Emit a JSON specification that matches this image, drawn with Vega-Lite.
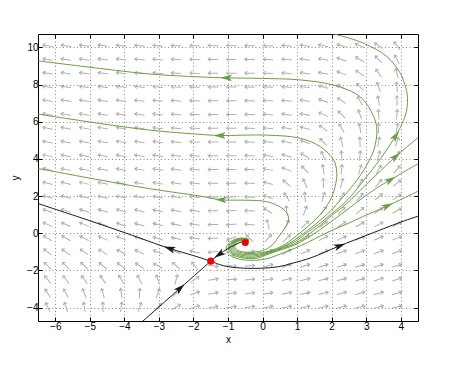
{
"$schema":"https://vega.github.io/schema/vega-lite/v6.json",
"width":380,"height":287,
"autosize":{"type":"none"},
"padding":{"left":38,"top":34,"right":43,"bottom":49},
"background":"white",
"config":{
 "view":{"stroke":"#000","strokeWidth":1},
 "axis":{"labelFont":"Liberation Sans","labelFontSize":10,"labelColor":"#000","labelOverlap":false,"titleFont":"Liberation Sans","titleFontSize":10,"titleFontWeight":"normal","titleColor":"#000","tickColor":"#000","tickSize":-4,"domain":false,"gridColor":"#8a8a8a","gridDash":[1,2.5],"gridOpacity":1,"labelPadding":4}
},
"resolve":{"axis":{"x":"independent","y":"independent"}},
"datasets":{
 "field":[
{"x":-6.22,"y":-3.97,"d":115},{"x":-5.69,"y":-3.97,"d":108},{"x":-5.16,"y":-3.97,"d":100},{"x":-4.62,"y":-3.97,"d":92},{"x":-4.09,"y":-3.97,"d":82},{"x":-3.56,"y":-3.97,"d":68},{"x":-3.03,"y":-3.97,"d":45},{"x":-2.5,"y":-3.97,"d":32},{"x":-1.96,"y":-3.97,"d":18},{"x":-1.43,"y":-3.97,"d":10},{"x":-0.9,"y":-3.97,"d":8},{"x":-0.37,"y":-3.97,"d":9},{"x":0.16,"y":-3.97,"d":10},{"x":0.7,"y":-3.97,"d":12},{"x":1.23,"y":-3.97,"d":13},{"x":1.76,"y":-3.97,"d":14},{"x":2.29,"y":-3.97,"d":15},{"x":2.82,"y":-3.97,"d":15},{"x":3.36,"y":-3.97,"d":15},{"x":3.89,"y":-3.97,"d":15},
{"x":-6.22,"y":-3.23,"d":122},{"x":-5.69,"y":-3.23,"d":118},{"x":-5.16,"y":-3.23,"d":112},{"x":-4.62,"y":-3.23,"d":105},{"x":-4.09,"y":-3.23,"d":97},{"x":-3.56,"y":-3.23,"d":88},{"x":-3.03,"y":-3.23,"d":72},{"x":-2.5,"y":-3.23,"d":42},{"x":-1.96,"y":-3.23,"d":20},{"x":-1.43,"y":-3.23,"d":10},{"x":-0.9,"y":-3.23,"d":7},{"x":-0.37,"y":-3.23,"d":8},{"x":0.16,"y":-3.23,"d":10},{"x":0.7,"y":-3.23,"d":12},{"x":1.23,"y":-3.23,"d":13},{"x":1.76,"y":-3.23,"d":14},{"x":2.29,"y":-3.23,"d":15},{"x":2.82,"y":-3.23,"d":16},{"x":3.36,"y":-3.23,"d":16},{"x":3.89,"y":-3.23,"d":16},
{"x":-6.22,"y":-2.49,"d":128},{"x":-5.69,"y":-2.49,"d":127},{"x":-5.16,"y":-2.49,"d":126},{"x":-4.62,"y":-2.49,"d":125},{"x":-4.09,"y":-2.49,"d":122},{"x":-3.56,"y":-2.49,"d":118},{"x":-3.03,"y":-2.49,"d":108},{"x":-2.5,"y":-2.49,"d":75},{"x":-1.96,"y":-2.49,"d":35},{"x":-1.43,"y":-2.49,"d":8},{"x":-0.9,"y":-2.49,"d":3},{"x":-0.37,"y":-2.49,"d":5},{"x":0.16,"y":-2.49,"d":9},{"x":0.7,"y":-2.49,"d":12},{"x":1.23,"y":-2.49,"d":13},{"x":1.76,"y":-2.49,"d":14},{"x":2.29,"y":-2.49,"d":15},{"x":2.82,"y":-2.49,"d":16},{"x":3.36,"y":-2.49,"d":17},{"x":3.89,"y":-2.49,"d":17},
{"x":-6.22,"y":-1.75,"d":135},{"x":-5.69,"y":-1.75,"d":135},{"x":-5.16,"y":-1.75,"d":137},{"x":-4.62,"y":-1.75,"d":140},{"x":-4.09,"y":-1.75,"d":143},{"x":-3.56,"y":-1.75,"d":146},{"x":-3.03,"y":-1.75,"d":150},{"x":-2.5,"y":-1.75,"d":138},{"x":-1.96,"y":-1.75,"d":128},{"x":-1.43,"y":-1.75,"d":353},{"x":-0.9,"y":-1.75,"d":352},{"x":-0.37,"y":-1.75,"d":2},{"x":0.16,"y":-1.75,"d":15},{"x":0.7,"y":-1.75,"d":20},{"x":1.23,"y":-1.75,"d":18},{"x":1.76,"y":-1.75,"d":18},{"x":2.29,"y":-1.75,"d":18},{"x":2.82,"y":-1.75,"d":18},{"x":3.36,"y":-1.75,"d":18},{"x":3.89,"y":-1.75,"d":18},
{"x":-6.22,"y":-1.01,"d":142},{"x":-5.69,"y":-1.01,"d":143},{"x":-5.16,"y":-1.01,"d":145},{"x":-4.62,"y":-1.01,"d":148},{"x":-4.09,"y":-1.01,"d":150},{"x":-3.56,"y":-1.01,"d":155},{"x":-3.03,"y":-1.01,"d":158},{"x":-2.5,"y":-1.01,"d":160},{"x":-1.96,"y":-1.01,"d":165},{"x":-1.43,"y":-1.01,"d":185},{"x":-0.9,"y":-1.01,"d":300},{"x":-0.37,"y":-1.01,"d":10},{"x":0.16,"y":-1.01,"d":25},{"x":0.7,"y":-1.01,"d":30},{"x":1.23,"y":-1.01,"d":25},{"x":1.76,"y":-1.01,"d":22},{"x":2.29,"y":-1.01,"d":21},{"x":2.82,"y":-1.01,"d":20},{"x":3.36,"y":-1.01,"d":20},{"x":3.89,"y":-1.01,"d":20},
{"x":-6.22,"y":-0.27,"d":148},{"x":-5.69,"y":-0.27,"d":150},{"x":-5.16,"y":-0.27,"d":152},{"x":-4.62,"y":-0.27,"d":155},{"x":-4.09,"y":-0.27,"d":158},{"x":-3.56,"y":-0.27,"d":161},{"x":-3.03,"y":-0.27,"d":164},{"x":-2.5,"y":-0.27,"d":167},{"x":-1.96,"y":-0.27,"d":172},{"x":-1.43,"y":-0.27,"d":182},{"x":-0.9,"y":-0.27,"d":200},{"x":-0.37,"y":-0.27,"d":135},{"x":0.16,"y":-0.27,"d":48},{"x":0.7,"y":-0.27,"d":45},{"x":1.23,"y":-0.27,"d":33},{"x":1.76,"y":-0.27,"d":28},{"x":2.29,"y":-0.27,"d":25},{"x":2.82,"y":-0.27,"d":24},{"x":3.36,"y":-0.27,"d":23},{"x":3.89,"y":-0.27,"d":22},
{"x":-6.22,"y":0.47,"d":155},{"x":-5.69,"y":0.47,"d":156},{"x":-5.16,"y":0.47,"d":158},{"x":-4.62,"y":0.47,"d":160},{"x":-4.09,"y":0.47,"d":162},{"x":-3.56,"y":0.47,"d":164},{"x":-3.03,"y":0.47,"d":166},{"x":-2.5,"y":0.47,"d":166},{"x":-1.96,"y":0.47,"d":172},{"x":-1.43,"y":0.47,"d":181},{"x":-0.9,"y":0.47,"d":186},{"x":-0.37,"y":0.47,"d":174},{"x":0.16,"y":0.47,"d":105},{"x":0.7,"y":0.47,"d":65},{"x":1.23,"y":0.47,"d":45},{"x":1.76,"y":0.47,"d":38},{"x":2.29,"y":0.47,"d":33},{"x":2.82,"y":0.47,"d":30},{"x":3.36,"y":0.47,"d":28},{"x":3.89,"y":0.47,"d":27},
{"x":-6.22,"y":1.21,"d":160},{"x":-5.69,"y":1.21,"d":161},{"x":-5.16,"y":1.21,"d":162},{"x":-4.62,"y":1.21,"d":163},{"x":-4.09,"y":1.21,"d":165},{"x":-3.56,"y":1.21,"d":166},{"x":-3.03,"y":1.21,"d":168},{"x":-2.5,"y":1.21,"d":168},{"x":-1.96,"y":1.21,"d":173},{"x":-1.43,"y":1.21,"d":180},{"x":-0.9,"y":1.21,"d":184},{"x":-0.37,"y":1.21,"d":177},{"x":0.16,"y":1.21,"d":146},{"x":0.7,"y":1.21,"d":97},{"x":1.23,"y":1.21,"d":70},{"x":1.76,"y":1.21,"d":55},{"x":2.29,"y":1.21,"d":45},{"x":2.82,"y":1.21,"d":40},{"x":3.36,"y":1.21,"d":33},{"x":3.89,"y":1.21,"d":30},
{"x":-6.22,"y":1.95,"d":165},{"x":-5.69,"y":1.95,"d":165},{"x":-5.16,"y":1.95,"d":166},{"x":-4.62,"y":1.95,"d":167},{"x":-4.09,"y":1.95,"d":168},{"x":-3.56,"y":1.95,"d":169},{"x":-3.03,"y":1.95,"d":170},{"x":-2.5,"y":1.95,"d":171},{"x":-1.96,"y":1.95,"d":174},{"x":-1.43,"y":1.95,"d":180},{"x":-0.9,"y":1.95,"d":183},{"x":-0.37,"y":1.95,"d":178},{"x":0.16,"y":1.95,"d":159},{"x":0.7,"y":1.95,"d":122},{"x":1.23,"y":1.95,"d":95},{"x":1.76,"y":1.95,"d":75},{"x":2.29,"y":1.95,"d":60},{"x":2.82,"y":1.95,"d":50},{"x":3.36,"y":1.95,"d":40},{"x":3.89,"y":1.95,"d":35},
{"x":-6.22,"y":2.69,"d":165},{"x":-5.69,"y":2.69,"d":166},{"x":-5.16,"y":2.69,"d":167},{"x":-4.62,"y":2.69,"d":168},{"x":-4.09,"y":2.69,"d":169},{"x":-3.56,"y":2.69,"d":170},{"x":-3.03,"y":2.69,"d":170},{"x":-2.5,"y":2.69,"d":172},{"x":-1.96,"y":2.69,"d":175},{"x":-1.43,"y":2.69,"d":180},{"x":-0.9,"y":2.69,"d":182},{"x":-0.37,"y":2.69,"d":178},{"x":0.16,"y":2.69,"d":165},{"x":0.7,"y":2.69,"d":140},{"x":1.23,"y":2.69,"d":115},{"x":1.76,"y":2.69,"d":90},{"x":2.29,"y":2.69,"d":75},{"x":2.82,"y":2.69,"d":60},{"x":3.36,"y":2.69,"d":50},{"x":3.89,"y":2.69,"d":40},
{"x":-6.22,"y":3.43,"d":166},{"x":-5.69,"y":3.43,"d":167},{"x":-5.16,"y":3.43,"d":167},{"x":-4.62,"y":3.43,"d":168},{"x":-4.09,"y":3.43,"d":169},{"x":-3.56,"y":3.43,"d":170},{"x":-3.03,"y":3.43,"d":171},{"x":-2.5,"y":3.43,"d":172},{"x":-1.96,"y":3.43,"d":175},{"x":-1.43,"y":3.43,"d":179},{"x":-0.9,"y":3.43,"d":181},{"x":-0.37,"y":3.43,"d":177},{"x":0.16,"y":3.43,"d":170},{"x":0.7,"y":3.43,"d":158},{"x":1.23,"y":3.43,"d":135},{"x":1.76,"y":3.43,"d":100},{"x":2.29,"y":3.43,"d":85},{"x":2.82,"y":3.43,"d":75},{"x":3.36,"y":3.43,"d":60},{"x":3.89,"y":3.43,"d":50},
{"x":-6.22,"y":4.17,"d":167},{"x":-5.69,"y":4.17,"d":168},{"x":-5.16,"y":4.17,"d":168},{"x":-4.62,"y":4.17,"d":169},{"x":-4.09,"y":4.17,"d":170},{"x":-3.56,"y":4.17,"d":170},{"x":-3.03,"y":4.17,"d":171},{"x":-2.5,"y":4.17,"d":173},{"x":-1.96,"y":4.17,"d":175},{"x":-1.43,"y":4.17,"d":179},{"x":-0.9,"y":4.17,"d":180},{"x":-0.37,"y":4.17,"d":177},{"x":0.16,"y":4.17,"d":172},{"x":0.7,"y":4.17,"d":165},{"x":1.23,"y":4.17,"d":150},{"x":1.76,"y":4.17,"d":115},{"x":2.29,"y":4.17,"d":95},{"x":2.82,"y":4.17,"d":85},{"x":3.36,"y":4.17,"d":75},{"x":3.89,"y":4.17,"d":60},
{"x":-6.22,"y":4.91,"d":168},{"x":-5.69,"y":4.91,"d":168},{"x":-5.16,"y":4.91,"d":169},{"x":-4.62,"y":4.91,"d":170},{"x":-4.09,"y":4.91,"d":170},{"x":-3.56,"y":4.91,"d":171},{"x":-3.03,"y":4.91,"d":172},{"x":-2.5,"y":4.91,"d":174},{"x":-1.96,"y":4.91,"d":176},{"x":-1.43,"y":4.91,"d":179},{"x":-0.9,"y":4.91,"d":180},{"x":-0.37,"y":4.91,"d":178},{"x":0.16,"y":4.91,"d":173},{"x":0.7,"y":4.91,"d":168},{"x":1.23,"y":4.91,"d":160},{"x":1.76,"y":4.91,"d":135},{"x":2.29,"y":4.91,"d":105},{"x":2.82,"y":4.91,"d":92},{"x":3.36,"y":4.91,"d":80},{"x":3.89,"y":4.91,"d":70},
{"x":-6.22,"y":5.65,"d":168},{"x":-5.69,"y":5.65,"d":169},{"x":-5.16,"y":5.65,"d":170},{"x":-4.62,"y":5.65,"d":170},{"x":-4.09,"y":5.65,"d":171},{"x":-3.56,"y":5.65,"d":172},{"x":-3.03,"y":5.65,"d":173},{"x":-2.5,"y":5.65,"d":174},{"x":-1.96,"y":5.65,"d":176},{"x":-1.43,"y":5.65,"d":179},{"x":-0.9,"y":5.65,"d":180},{"x":-0.37,"y":5.65,"d":178},{"x":0.16,"y":5.65,"d":174},{"x":0.7,"y":5.65,"d":170},{"x":1.23,"y":5.65,"d":165},{"x":1.76,"y":5.65,"d":145},{"x":2.29,"y":5.65,"d":120},{"x":2.82,"y":5.65,"d":100},{"x":3.36,"y":5.65,"d":88},{"x":3.89,"y":5.65,"d":80},
{"x":-6.22,"y":6.39,"d":169},{"x":-5.69,"y":6.39,"d":170},{"x":-5.16,"y":6.39,"d":170},{"x":-4.62,"y":6.39,"d":171},{"x":-4.09,"y":6.39,"d":172},{"x":-3.56,"y":6.39,"d":172},{"x":-3.03,"y":6.39,"d":173},{"x":-2.5,"y":6.39,"d":175},{"x":-1.96,"y":6.39,"d":176},{"x":-1.43,"y":6.39,"d":179},{"x":-0.9,"y":6.39,"d":180},{"x":-0.37,"y":6.39,"d":178},{"x":0.16,"y":6.39,"d":175},{"x":0.7,"y":6.39,"d":172},{"x":1.23,"y":6.39,"d":168},{"x":1.76,"y":6.39,"d":155},{"x":2.29,"y":6.39,"d":135},{"x":2.82,"y":6.39,"d":110},{"x":3.36,"y":6.39,"d":95},{"x":3.89,"y":6.39,"d":85},
{"x":-6.22,"y":7.13,"d":170},{"x":-5.69,"y":7.13,"d":170},{"x":-5.16,"y":7.13,"d":171},{"x":-4.62,"y":7.13,"d":171},{"x":-4.09,"y":7.13,"d":172},{"x":-3.56,"y":7.13,"d":173},{"x":-3.03,"y":7.13,"d":174},{"x":-2.5,"y":7.13,"d":175},{"x":-1.96,"y":7.13,"d":177},{"x":-1.43,"y":7.13,"d":179},{"x":-0.9,"y":7.13,"d":180},{"x":-0.37,"y":7.13,"d":178},{"x":0.16,"y":7.13,"d":176},{"x":0.7,"y":7.13,"d":175},{"x":1.23,"y":7.13,"d":170},{"x":1.76,"y":7.13,"d":160},{"x":2.29,"y":7.13,"d":145},{"x":2.82,"y":7.13,"d":120},{"x":3.36,"y":7.13,"d":100},{"x":3.89,"y":7.13,"d":90},
{"x":-6.22,"y":7.87,"d":170},{"x":-5.69,"y":7.87,"d":171},{"x":-5.16,"y":7.87,"d":171},{"x":-4.62,"y":7.87,"d":172},{"x":-4.09,"y":7.87,"d":173},{"x":-3.56,"y":7.87,"d":173},{"x":-3.03,"y":7.87,"d":174},{"x":-2.5,"y":7.87,"d":176},{"x":-1.96,"y":7.87,"d":177},{"x":-1.43,"y":7.87,"d":179},{"x":-0.9,"y":7.87,"d":180},{"x":-0.37,"y":7.87,"d":178},{"x":0.16,"y":7.87,"d":176},{"x":0.7,"y":7.87,"d":175},{"x":1.23,"y":7.87,"d":172},{"x":1.76,"y":7.87,"d":165},{"x":2.29,"y":7.87,"d":155},{"x":2.82,"y":7.87,"d":135},{"x":3.36,"y":7.87,"d":110},{"x":3.89,"y":7.87,"d":95},
{"x":-6.22,"y":8.61,"d":171},{"x":-5.69,"y":8.61,"d":171},{"x":-5.16,"y":8.61,"d":172},{"x":-4.62,"y":8.61,"d":172},{"x":-4.09,"y":8.61,"d":173},{"x":-3.56,"y":8.61,"d":174},{"x":-3.03,"y":8.61,"d":175},{"x":-2.5,"y":8.61,"d":176},{"x":-1.96,"y":8.61,"d":177},{"x":-1.43,"y":8.61,"d":179},{"x":-0.9,"y":8.61,"d":180},{"x":-0.37,"y":8.61,"d":179},{"x":0.16,"y":8.61,"d":177},{"x":0.7,"y":8.61,"d":175},{"x":1.23,"y":8.61,"d":172},{"x":1.76,"y":8.61,"d":168},{"x":2.29,"y":8.61,"d":158},{"x":2.82,"y":8.61,"d":145},{"x":3.36,"y":8.61,"d":125},{"x":3.89,"y":8.61,"d":105},
{"x":-6.22,"y":9.35,"d":171},{"x":-5.69,"y":9.35,"d":172},{"x":-5.16,"y":9.35,"d":172},{"x":-4.62,"y":9.35,"d":173},{"x":-4.09,"y":9.35,"d":173},{"x":-3.56,"y":9.35,"d":174},{"x":-3.03,"y":9.35,"d":175},{"x":-2.5,"y":9.35,"d":176},{"x":-1.96,"y":9.35,"d":177},{"x":-1.43,"y":9.35,"d":179},{"x":-0.9,"y":9.35,"d":180},{"x":-0.37,"y":9.35,"d":179},{"x":0.16,"y":9.35,"d":177},{"x":0.7,"y":9.35,"d":175},{"x":1.23,"y":9.35,"d":172},{"x":1.76,"y":9.35,"d":170},{"x":2.29,"y":9.35,"d":160},{"x":2.82,"y":9.35,"d":150},{"x":3.36,"y":9.35,"d":135},{"x":3.89,"y":9.35,"d":118},
{"x":-6.22,"y":10.09,"d":172},{"x":-5.69,"y":10.09,"d":172},{"x":-5.16,"y":10.09,"d":173},{"x":-4.62,"y":10.09,"d":173},{"x":-4.09,"y":10.09,"d":174},{"x":-3.56,"y":10.09,"d":174},{"x":-3.03,"y":10.09,"d":175},{"x":-2.5,"y":10.09,"d":176},{"x":-1.96,"y":10.09,"d":177},{"x":-1.43,"y":10.09,"d":179},{"x":-0.9,"y":10.09,"d":180},{"x":-0.37,"y":10.09,"d":179},{"x":0.16,"y":10.09,"d":177},{"x":0.7,"y":10.09,"d":175},{"x":1.23,"y":10.09,"d":172},{"x":1.76,"y":10.09,"d":167},{"x":2.29,"y":10.09,"d":162},{"x":2.82,"y":10.09,"d":157},{"x":3.36,"y":10.09,"d":147},{"x":3.89,"y":10.09,"d":128}
 ],
 "traj":[
{"c":"D","t":"g","k":0,"x":-0.5,"y":-0.5},{"c":"D","t":"g","k":1,"x":-0.436,"y":-0.42},{"c":"D","t":"g","k":2,"x":-0.54,"y":-0.364},{"c":"D","t":"g","k":3,"x":-0.7,"y":-0.436},{"c":"D","t":"g","k":4,"x":-0.804,"y":-0.644},{"c":"D","t":"g","k":5,"x":-0.756,"y":-0.86},{"c":"D","t":"g","k":6,"x":-0.58,"y":-0.996},{"c":"D","t":"g","k":7,"x":-0.3,"y":-1.02},{"c":"D","t":"g","k":8,"x":0.05,"y":-0.9},{"c":"D","t":"g","k":9,"x":0.3,"y":-0.6},{"c":"D","t":"g","k":10,"x":0.46,"y":-0.2},{"c":"D","t":"g","k":11,"x":0.62,"y":0.2},{"c":"D","t":"g","k":12,"x":0.74,"y":0.6},{"c":"D","t":"g","k":13,"x":0.74,"y":0.95},{"c":"D","t":"g","k":14,"x":0.6,"y":1.3},{"c":"D","t":"g","k":15,"x":0.3,"y":1.6},{"c":"D","t":"g","k":16,"x":-0.02,"y":1.74},{"c":"D","t":"g","k":17,"x":-0.6,"y":1.78},{"c":"D","t":"g","k":18,"x":-1.2,"y":1.8},{"c":"D","t":"g","k":19,"x":-1.81,"y":2.0},{"c":"D","t":"g","k":20,"x":-3.27,"y":2.4},{"c":"D","t":"g","k":21,"x":-4.72,"y":2.87},{"c":"D","t":"g","k":22,"x":-6.6,"y":3.52},
{"c":"C","t":"g","k":0,"x":-0.5,"y":-0.5},{"c":"C","t":"g","k":1,"x":-0.428,"y":-0.41},{"c":"C","t":"g","k":2,"x":-0.545,"y":-0.347},{"c":"C","t":"g","k":3,"x":-0.725,"y":-0.428},{"c":"C","t":"g","k":4,"x":-0.842,"y":-0.662},{"c":"C","t":"g","k":5,"x":-0.788,"y":-0.905},{"c":"C","t":"g","k":6,"x":-0.59,"y":-1.058},{"c":"C","t":"g","k":7,"x":-0.275,"y":-1.085},{"c":"C","t":"g","k":8,"x":0.2,"y":-0.95},{"c":"C","t":"g","k":9,"x":0.6,"y":-0.65},{"c":"C","t":"g","k":10,"x":0.94,"y":-0.2},{"c":"C","t":"g","k":11,"x":1.3,"y":0.35},{"c":"C","t":"g","k":12,"x":1.67,"y":1.0},{"c":"C","t":"g","k":13,"x":1.96,"y":1.79},{"c":"C","t":"g","k":14,"x":2.1,"y":2.51},{"c":"C","t":"g","k":15,"x":2.15,"y":3.23},{"c":"C","t":"g","k":16,"x":2.06,"y":3.94},{"c":"C","t":"g","k":17,"x":1.67,"y":4.66},{"c":"C","t":"g","k":18,"x":1.09,"y":5.11},{"c":"C","t":"g","k":19,"x":0.12,"y":5.28},{"c":"C","t":"g","k":20,"x":-1.23,"y":5.26},{"c":"C","t":"g","k":21,"x":-1.81,"y":5.32},{"c":"C","t":"g","k":22,"x":-3.27,"y":5.55},{"c":"C","t":"g","k":23,"x":-4.72,"y":5.91},{"c":"C","t":"g","k":24,"x":-6.6,"y":6.44},
{"c":"B","t":"g","k":0,"x":-0.5,"y":-0.5},{"c":"B","t":"g","k":1,"x":-0.42,"y":-0.4},{"c":"B","t":"g","k":2,"x":-0.55,"y":-0.33},{"c":"B","t":"g","k":3,"x":-0.75,"y":-0.42},{"c":"B","t":"g","k":4,"x":-0.88,"y":-0.68},{"c":"B","t":"g","k":5,"x":-0.82,"y":-0.95},{"c":"B","t":"g","k":6,"x":-0.6,"y":-1.12},{"c":"B","t":"g","k":7,"x":-0.25,"y":-1.15},{"c":"B","t":"g","k":8,"x":0.2,"y":-1.0},{"c":"B","t":"g","k":9,"x":0.6,"y":-0.72},{"c":"B","t":"g","k":10,"x":0.94,"y":-0.35},{"c":"B","t":"g","k":11,"x":1.3,"y":0.15},{"c":"B","t":"g","k":12,"x":1.67,"y":0.7},{"c":"B","t":"g","k":13,"x":2.0,"y":1.25},{"c":"B","t":"g","k":14,"x":2.25,"y":1.79},{"c":"B","t":"g","k":15,"x":2.54,"y":2.4},{"c":"B","t":"g","k":16,"x":2.93,"y":3.4},{"c":"B","t":"g","k":17,"x":3.22,"y":4.48},{"c":"B","t":"g","k":18,"x":3.31,"y":5.55},{"c":"B","t":"g","k":19,"x":3.22,"y":6.27},{"c":"B","t":"g","k":20,"x":2.83,"y":7.34},{"c":"B","t":"g","k":21,"x":2.05,"y":7.97},{"c":"B","t":"g","k":22,"x":1.09,"y":8.25},{"c":"B","t":"g","k":23,"x":0.0,"y":8.33},{"c":"B","t":"g","k":24,"x":-1.04,"y":8.36},{"c":"B","t":"g","k":25,"x":-1.81,"y":8.41},{"c":"B","t":"g","k":26,"x":-3.27,"y":8.57},{"c":"B","t":"g","k":27,"x":-4.72,"y":8.87},{"c":"B","t":"g","k":28,"x":-6.6,"y":9.3},
{"c":"A","t":"g","k":0,"x":-0.5,"y":-0.5},{"c":"A","t":"g","k":1,"x":-0.412,"y":-0.39},{"c":"A","t":"g","k":2,"x":-0.555,"y":-0.313},{"c":"A","t":"g","k":3,"x":-0.775,"y":-0.412},{"c":"A","t":"g","k":4,"x":-0.918,"y":-0.698},{"c":"A","t":"g","k":5,"x":-0.852,"y":-0.995},{"c":"A","t":"g","k":6,"x":-0.61,"y":-1.182},{"c":"A","t":"g","k":7,"x":-0.225,"y":-1.215},{"c":"A","t":"g","k":8,"x":0.2,"y":-1.03},{"c":"A","t":"g","k":9,"x":0.6,"y":-0.76},{"c":"A","t":"g","k":10,"x":0.94,"y":-0.45},{"c":"A","t":"g","k":11,"x":1.3,"y":0.05},{"c":"A","t":"g","k":12,"x":1.67,"y":0.55},{"c":"A","t":"g","k":13,"x":2.0,"y":1.05},{"c":"A","t":"g","k":14,"x":2.44,"y":1.75},{"c":"A","t":"g","k":15,"x":2.93,"y":2.85},{"c":"A","t":"g","k":16,"x":3.41,"y":4.0},{"c":"A","t":"g","k":17,"x":3.85,"y":5.23},{"c":"A","t":"g","k":18,"x":4.04,"y":5.9},{"c":"A","t":"g","k":19,"x":4.17,"y":6.6},{"c":"A","t":"g","k":20,"x":4.19,"y":7.44},{"c":"A","t":"g","k":21,"x":4.1,"y":8.1},{"c":"A","t":"g","k":22,"x":3.99,"y":8.6},{"c":"A","t":"g","k":23,"x":3.61,"y":9.49},{"c":"A","t":"g","k":24,"x":2.93,"y":10.22},{"c":"A","t":"g","k":25,"x":2.1,"y":10.71},{"c":"A","t":"g","k":26,"x":1.8,"y":10.85},
{"c":"E","t":"g","k":0,"x":-0.5,"y":-0.5},{"c":"E","t":"g","k":1,"x":-0.404,"y":-0.38},{"c":"E","t":"g","k":2,"x":-0.56,"y":-0.296},{"c":"E","t":"g","k":3,"x":-0.8,"y":-0.404},{"c":"E","t":"g","k":4,"x":-0.956,"y":-0.716},{"c":"E","t":"g","k":5,"x":-0.884,"y":-1.04},{"c":"E","t":"g","k":6,"x":-0.62,"y":-1.244},{"c":"E","t":"g","k":7,"x":-0.2,"y":-1.28},{"c":"E","t":"g","k":8,"x":0.2,"y":-1.06},{"c":"E","t":"g","k":9,"x":0.6,"y":-0.8},{"c":"E","t":"g","k":10,"x":0.94,"y":-0.55},{"c":"E","t":"g","k":11,"x":1.3,"y":-0.1},{"c":"E","t":"g","k":12,"x":1.67,"y":0.42},{"c":"E","t":"g","k":13,"x":2.0,"y":0.95},{"c":"E","t":"g","k":14,"x":2.44,"y":1.6},{"c":"E","t":"g","k":15,"x":2.93,"y":2.5},{"c":"E","t":"g","k":16,"x":3.41,"y":3.35},{"c":"E","t":"g","k":17,"x":3.85,"y":4.12},{"c":"E","t":"g","k":18,"x":4.6,"y":5.3},
{"c":"F","t":"g","k":0,"x":-0.5,"y":-0.5},{"c":"F","t":"g","k":1,"x":-0.396,"y":-0.37},{"c":"F","t":"g","k":2,"x":-0.565,"y":-0.279},{"c":"F","t":"g","k":3,"x":-0.825,"y":-0.396},{"c":"F","t":"g","k":4,"x":-0.994,"y":-0.734},{"c":"F","t":"g","k":5,"x":-0.916,"y":-1.085},{"c":"F","t":"g","k":6,"x":-0.63,"y":-1.306},{"c":"F","t":"g","k":7,"x":-0.175,"y":-1.345},{"c":"F","t":"g","k":8,"x":0.2,"y":-1.1},{"c":"F","t":"g","k":9,"x":0.6,"y":-0.85},{"c":"F","t":"g","k":10,"x":0.94,"y":-0.62},{"c":"F","t":"g","k":11,"x":1.3,"y":-0.25},{"c":"F","t":"g","k":12,"x":1.67,"y":0.2},{"c":"F","t":"g","k":13,"x":2.0,"y":0.65},{"c":"F","t":"g","k":14,"x":2.44,"y":1.25},{"c":"F","t":"g","k":15,"x":2.93,"y":1.95},{"c":"F","t":"g","k":16,"x":3.41,"y":2.55},{"c":"F","t":"g","k":17,"x":3.7,"y":2.87},{"c":"F","t":"g","k":18,"x":4.6,"y":3.85},
{"c":"G","t":"g","k":0,"x":-0.5,"y":-0.5},{"c":"G","t":"g","k":1,"x":-0.384,"y":-0.355},{"c":"G","t":"g","k":2,"x":-0.5725,"y":-0.2535},{"c":"G","t":"g","k":3,"x":-0.8625,"y":-0.384},{"c":"G","t":"g","k":4,"x":-1.051,"y":-0.761},{"c":"G","t":"g","k":5,"x":-0.964,"y":-1.1525},{"c":"G","t":"g","k":6,"x":-0.645,"y":-1.399},{"c":"G","t":"g","k":7,"x":-0.1375,"y":-1.4425},{"c":"G","t":"g","k":8,"x":0.25,"y":-1.3},{"c":"G","t":"g","k":9,"x":0.6,"y":-1.05},{"c":"G","t":"g","k":10,"x":0.94,"y":-0.8},{"c":"G","t":"g","k":11,"x":1.3,"y":-0.5},{"c":"G","t":"g","k":12,"x":1.67,"y":-0.15},{"c":"G","t":"g","k":13,"x":2.0,"y":0.15},{"c":"G","t":"g","k":14,"x":2.44,"y":0.5},{"c":"G","t":"g","k":15,"x":2.93,"y":0.92},{"c":"G","t":"g","k":16,"x":3.61,"y":1.47},{"c":"G","t":"g","k":17,"x":4.6,"y":2.35},
{"c":"b1","t":"b","k":0,"x":-1.5,"y":-1.5},{"c":"b1","t":"b","k":1,"x":-2.0,"y":-1.2},{"c":"b1","t":"b","k":2,"x":-2.69,"y":-0.82},{"c":"b1","t":"b","k":3,"x":-3.94,"y":0.0},{"c":"b1","t":"b","k":4,"x":-5.2,"y":0.8},{"c":"b1","t":"b","k":5,"x":-6.6,"y":1.66},
{"c":"b2","t":"b","k":0,"x":-1.5,"y":-1.5},{"c":"b2","t":"b","k":1,"x":-1.25,"y":-1.68},{"c":"b2","t":"b","k":2,"x":-0.99,"y":-1.8},{"c":"b2","t":"b","k":3,"x":-0.51,"y":-1.88},{"c":"b2","t":"b","k":4,"x":-0.02,"y":-1.88},{"c":"b2","t":"b","k":5,"x":0.46,"y":-1.8},{"c":"b2","t":"b","k":6,"x":0.85,"y":-1.62},{"c":"b2","t":"b","k":7,"x":1.43,"y":-1.3},{"c":"b2","t":"b","k":8,"x":2.2,"y":-0.7},{"c":"b2","t":"b","k":9,"x":3.0,"y":-0.12},{"c":"b2","t":"b","k":10,"x":4.0,"y":0.6},{"c":"b2","t":"b","k":11,"x":4.6,"y":0.98},
{"c":"b3","t":"b","k":0,"x":-3.6,"y":-4.95},{"c":"b3","t":"b","k":1,"x":-2.39,"y":-2.96},{"c":"b3","t":"b","k":2,"x":-1.5,"y":-1.5},
{"c":"b4","t":"b","k":0,"x":-0.45,"y":-0.38},{"c":"b4","t":"b","k":1,"x":-0.55,"y":-0.42},{"c":"b4","t":"b","k":2,"x":-0.7,"y":-0.54},{"c":"b4","t":"b","k":3,"x":-0.99,"y":-0.81},{"c":"b4","t":"b","k":4,"x":-1.28,"y":-1.17},{"c":"b4","t":"b","k":5,"x":-1.5,"y":-1.5}
 ],
 "heads":[
{"t":"g","x":-1.2,"y":1.8,"d":178},{"t":"g","x":-1.23,"y":5.26,"d":179},{"t":"g","x":-1.04,"y":8.36,"d":179},{"t":"g","x":3.85,"y":5.23,"d":55},{"t":"g","x":3.85,"y":4.12,"d":40},{"t":"g","x":3.7,"y":2.87,"d":30},{"t":"g","x":3.61,"y":1.47,"d":25},
{"t":"b","x":-2.69,"y":-0.82,"d":161},{"t":"b","x":2.23,"y":-0.68,"d":21},{"t":"b","x":-2.39,"y":-2.96,"d":41.5},{"t":"b","x":-1.25,"y":-1.13,"d":214}
 ],
 "eq":[{"x":-1.5,"y":-1.5},{"x":-0.5,"y":-0.5}]
},
"layer":[
 {"data":{"name":"field"},
  "mark":{"type":"point","shape":"M0,1L0,-1M-0.38,-0.5L0,-1L0.38,-0.5","filled":false,"stroke":"#b0b0b0","strokeWidth":1,"size":100,"opacity":1},
  "encoding":{
   "x":{"field":"x","type":"quantitative","scale":{"domain":[-6.5,4.5],"nice":false,"zero":false},"axis":{"values":[-6,-5,-4,-3,-2,-1,0,1,2,3,4],"title":"x","grid":true,"titlePadding":3}},
   "y":{"field":"y","type":"quantitative","scale":{"domain":[-4.72,10.72],"nice":false,"zero":false},"axis":{"values":[-4,-2,0,2,4,6,8,10],"title":"y","grid":true,"titlePadding":6}},
   "angle":{"field":"d","type":"quantitative","scale":{"domain":[0,360],"range":[90,-270]}}
  }},
 {"data":{"name":"traj"},
  "mark":{"type":"line","strokeWidth":1,"clip":true,"interpolate":"catmull-rom"},
  "encoding":{
   "x":{"field":"x","type":"quantitative","axis":null},
   "y":{"field":"y","type":"quantitative","axis":null},
   "detail":{"field":"c"},
   "order":{"field":"k","type":"quantitative"},
   "color":{"field":"t","type":"nominal","scale":{"domain":["g","b"],"range":["#6b9d45","#1a1a1a"]},"legend":null}
  }},
 {"data":{"name":"heads"},
  "mark":{"type":"point","shape":"M0,-1L0.55,0.9L0,0.45L-0.55,0.9Z","filled":true,"size":150,"opacity":1},
  "encoding":{
   "x":{"field":"x","type":"quantitative","axis":null},
   "y":{"field":"y","type":"quantitative","axis":null},
   "angle":{"field":"d","type":"quantitative","scale":{"domain":[0,360],"range":[90,-270]}},
   "color":{"field":"t","type":"nominal","scale":{"domain":["g","b"],"range":["#3f7f1f","#000000"]},"legend":null}
  }},
 {"data":{"name":"eq"},
  "mark":{"type":"point","shape":"circle","filled":true,"color":"#ee0000","size":50,"opacity":1},
  "encoding":{
   "x":{"field":"x","type":"quantitative","axis":{"orient":"top","values":[-6,-5,-4,-3,-2,-1,0,1,2,3,4],"labels":false,"title":null,"grid":false}},
   "y":{"field":"y","type":"quantitative","axis":{"orient":"right","values":[-4,-2,0,2,4,6,8,10],"labels":false,"title":null,"grid":false}}
  }}
]
}
